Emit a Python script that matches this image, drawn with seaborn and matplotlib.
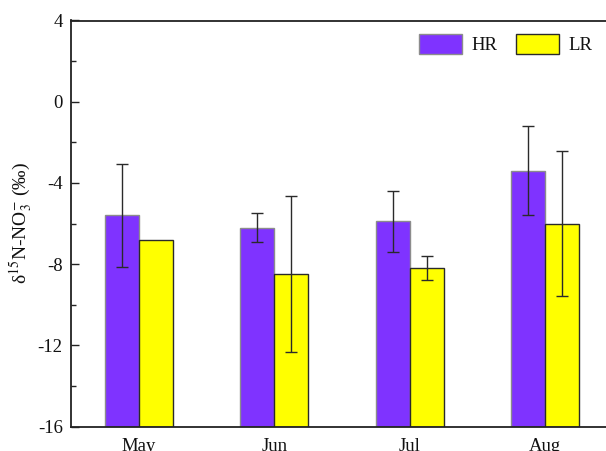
import matplotlib
matplotlib.use("Agg")
import matplotlib.pyplot as plt
import seaborn as sns
import pandas as pd

# Monthly nitrate δ15N means and standard deviations for the two groups
months = ["May", "Jun", "Jul", "Aug"]
groups = ["HR", "LR"]
hr_mean = [-5.6, -6.2, -5.9, -3.4]
hr_sd = [2.53, 0.70, 1.50, 2.18]
lr_mean = [-6.8, -8.5, -8.2, -6.0]
lr_sd = [0.0, 3.85, 0.60, 3.57]
yticks = [4, 0, -4, -8, -12, -16]
baseline = -16

colors = {"HR": "#7f33ff", "LR": "#ffff00"}
edges = {"HR": "#8c8c8c", "LR": "#2a2a2a"}

df = pd.DataFrame({
    "month": months * 2,
    "group": ["HR"] * 4 + ["LR"] * 4,
    "value": hr_mean + lr_mean,
    "sd": hr_sd + lr_sd,
})

sns.set_theme(style="white")
plt.rcParams["font.family"] = ["Liberation Serif", "DejaVu Serif"]
plt.rcParams["mathtext.fontset"] = "stix"
plt.rcParams["axes.unicode_minus"] = False

fig = plt.figure(figsize=(6.06, 4.51), dpi=100)
ax = fig.add_axes([71 / 606, 1 - 426.5 / 451, 542 / 606, 406 / 451])

sns.barplot(data=df, x="month", y="value", hue="group", order=months,
            hue_order=groups, palette=colors, width=0.5, gap=0,
            errorbar=None, saturation=1, ax=ax)

# Bars rise from the bottom of the axis; error bars sit at each bar top
for container, g in zip(ax.containers, groups):
    sub = df[df["group"] == g].set_index("month").loc[months]
    for rect, (_, row) in zip(container, sub.iterrows()):
        h = rect.get_height()
        rect.set_y(baseline)
        rect.set_height(h - baseline)
        rect.set_edgecolor(edges[g])
        rect.set_linewidth(1.0)
        if row["sd"] > 0:
            ax.errorbar(rect.get_x() + rect.get_width() / 2, row["value"],
                        yerr=row["sd"], fmt="none", ecolor="#2a2a2a",
                        elinewidth=1.0, capsize=4, capthick=1.0, zorder=5)

ax.set_ylim(-16, 4)
ax.set_xlim(-0.5, 3.5)
ax.set_yticks(yticks)
ax.set_yticks([2, -2, -6, -10, -14], minor=True)
ax.tick_params(axis="y", which="major", direction="in", length=6, width=1,
               color="#222222", labelsize=13.5, pad=6, left=True,
               labelcolor="#111111")
ax.tick_params(axis="y", which="minor", direction="in", length=3.5, width=1,
               color="#222222", left=True)
ax.tick_params(axis="x", length=0, labelsize=13.5, pad=8, labelcolor="#111111")
ax.set_xlabel("")
ax.set_ylabel("δ$^{15}$N-NO$_3^{-}$ (‰)", fontsize=14, labelpad=2,
              color="#111111")

for side in ["left", "right", "top", "bottom"]:
    ax.spines[side].set_visible(True)
    ax.spines[side].set_color("#222222")
    ax.spines[side].set_linewidth(1.3)

handles, labels = ax.get_legend_handles_labels()
for hd, g in zip(handles, labels):
    hd.set_edgecolor(edges[g])
    hd.set_linewidth(1.0)
leg = ax.legend(handles, labels, ncol=2, frameon=False, loc="upper left",
                bbox_to_anchor=(419 / 606, 1 - 34 / 451),
                bbox_transform=fig.transFigure, borderaxespad=0, borderpad=0,
                handlelength=2.3, handleheight=1.25, handletextpad=0.5,
                columnspacing=1.0, fontsize=13.5)
for t in leg.get_texts():
    t.set_color("#111111")

fig.savefig("out.png", dpi=100)
